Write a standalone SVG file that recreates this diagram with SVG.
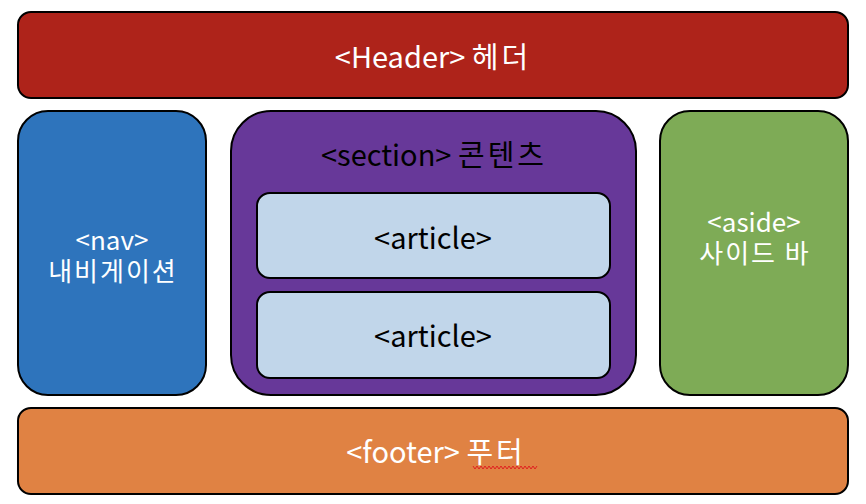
<svg xmlns="http://www.w3.org/2000/svg" width="866" height="504" viewBox="0 0 866 504">
<style>
.box{stroke:#000;stroke-width:2}
.t{font-family:"Noto Sans CJK KR","Open Sans",sans-serif;font-size:29px;text-anchor:middle;dominant-baseline:central}
.w{fill:#fff}
.k{fill:#000}
.s{font-size:26px}
.ko{letter-spacing:3px}
.ko2{letter-spacing:2px}
</style>
<rect width="866" height="504" fill="#fff"/>
<g id="header">
<rect class="box" x="18" y="12" width="830" height="86" rx="13" fill="#ae231a"/>
<text class="t w" x="433" y="55">&lt;Header&gt; <tspan class="ko">헤더</tspan></text>
</g>
<g id="nav">
<rect class="box" x="18" y="111" width="188" height="284" rx="30" fill="#2e74bc"/>
<text class="t w s" x="112" y="238">&lt;nav&gt;<tspan class="ko2" x="113" dy="31">내비게이션</tspan></text>
</g>
<g id="section">
<rect class="box" x="231" y="111" width="405" height="284" rx="40" fill="#673899"/>
<text class="t k" x="434" y="153">&lt;section&gt; <tspan class="ko">콘텐츠</tspan></text>
</g>
<g id="article1">
<rect class="box" x="257" y="193" width="353" height="85" rx="13" fill="#c1d6ea"/>
<text class="t k" x="433" y="236">&lt;article&gt;</text>
</g>
<g id="article2">
<rect class="box" x="257" y="292" width="353" height="86" rx="13" fill="#c1d6ea"/>
<text class="t k" x="433" y="334">&lt;article&gt;</text>
</g>
<g id="aside">
<rect class="box" x="660" y="111" width="188" height="284" rx="30" fill="#7eab56"/>
<text class="t w s" x="754" y="220">&lt;aside&gt;<tspan class="ko2" x="755" dy="31">사이드 바</tspan></text>
</g>
<g id="footer">
<rect class="box" x="18" y="408" width="830" height="86" rx="13" fill="#e08243"/>
<text class="t w" x="436" y="450">&lt;footer&gt; <tspan class="ko">푸터</tspan></text>
<polyline points="473,466 475,469 477,466 479,469 481,466 483,469 485,466 487,469 489,466 491,469 493,466 495,469 497,466 499,469 501,466 503,469 505,466 507,469 509,466 511,469 513,466 515,469 517,466 519,469 521,466 523,469 525,466 527,469 529,466 531,469 533,466 535,469 537,466" fill="none" stroke="#e02020" stroke-width="1"/>
</g>
<g id="connectors"></g>
</svg>
